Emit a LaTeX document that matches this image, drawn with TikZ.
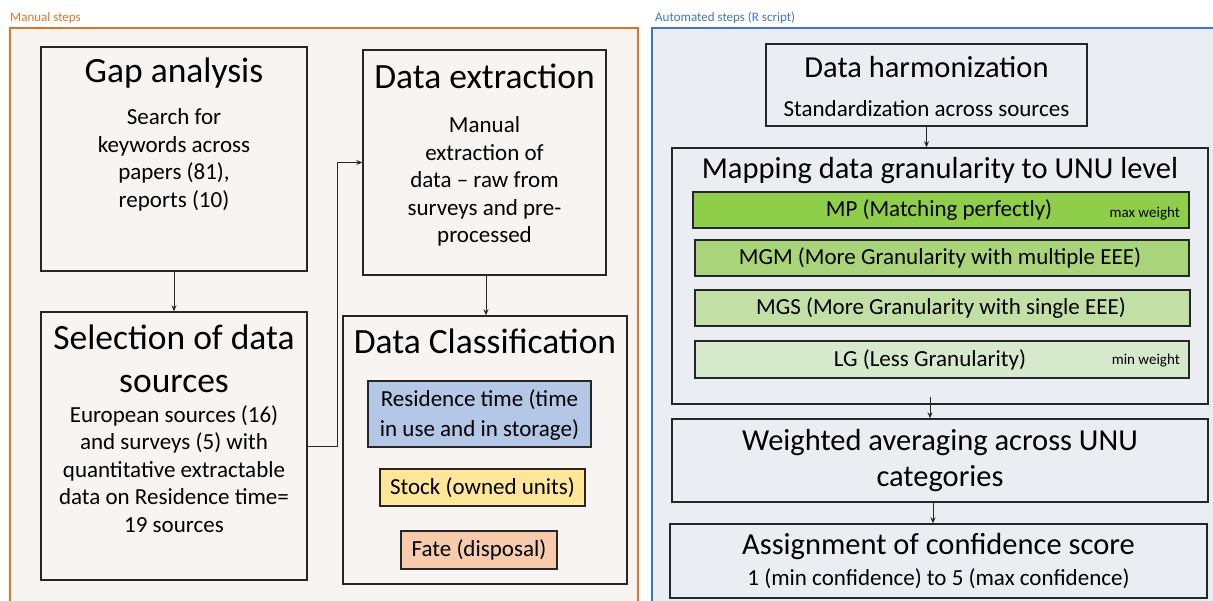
\documentclass[tikz,border=0pt]{standalone}
\usepackage{fontspec}
\setmainfont{Carlito}
\usetikzlibrary{arrows.meta}
\definecolor{orangeB}{HTML}{D9752B}
\definecolor{blueB}{HTML}{4472C4}
\definecolor{leftbg}{HTML}{F8F4F1}
\definecolor{rightbg}{HTML}{EAEEF3}
\definecolor{resfill}{HTML}{B4C7E7}
\definecolor{stockfill}{HTML}{FFE699}
\definecolor{fatefill}{HTML}{F8CBAD}
\definecolor{mpfill}{HTML}{8FCE4B}
\definecolor{mgmfill}{HTML}{A9D47A}
\definecolor{mgsfill}{HTML}{C2E0A5}
\definecolor{lgfill}{HTML}{D6E9CC}
\definecolor{edge}{HTML}{262626}
\tikzset{
  box/.style={draw=edge, line width=1.4pt, rectangle, inner sep=0pt},
  tag/.style={draw=edge, line width=1.2pt, rectangle, inner sep=0pt},
  container/.style={rectangle, inner sep=0pt, line width=1.3pt},
  bigtitle/.style={font=\fontsize{35.5}{43}\selectfont, align=center, inner sep=0pt},
  midtitle/.style={font=\fontsize{30.5}{36}\selectfont, align=center, inner sep=0pt},
  body/.style={font=\fontsize{23}{27.6}\selectfont, align=center, inner sep=0pt},
  small/.style={font=\fontsize{13}{15}\selectfont, inner sep=0pt},
  tiny/.style={font=\fontsize{15}{17}\selectfont, inner sep=0pt},
  arr/.style={-{Stealth[length=6pt,width=5pt]}, line width=1pt, draw=edge},
}
\begin{document}
\begin{tikzpicture}[x=1pt,y=-1pt]
\useasboundingbox (0,0) rectangle (1213,601);
% containers
\node[container, draw=orangeB, fill=leftbg, minimum width=628, minimum height=590] (manual) at (324,323) {};
\node[container, draw=blueB, fill=rightbg, minimum width=580, minimum height=590] (auto) at (942,323) {};
\node[small, text=orangeB, anchor=west] (manualT) at (10,18) {Manual steps};
\node[small, text=blueB, anchor=west] (autoT) at (655,18) {Automated steps (R script)};
% left boxes
\node[box, minimum width=266, minimum height=224] (gap) at (174,159) {};
\node[bigtitle] (gapT) at (174,73) {Gap analysis};
\node[body] (gapB) at (174,160) {Search for\\keywords across\\papers (81),\\reports (10)};
\node[box, minimum width=266, minimum height=268] (sel) at (174,446) {};
\node[bigtitle] (selT) at (174,359) {Selection of data\\sources};
\node[body] (selB) at (174,469) {European sources (16)\\and surveys (5) with\\quantitative extractable\\data on Residence time=\\19 sources};
\node[box, minimum width=243, minimum height=225] (ext) at (484.5,162.5) {};
\node[bigtitle] (extT) at (484.5,76) {Data extraction};
\node[body] (extB) at (484.5,181.5) {Manual\\extraction of\\data -- raw from\\surveys and pre-\\processed};
\node[box, minimum width=284, minimum height=268] (cls) at (485,450) {};
\node[bigtitle] (clsT) at (485,341) {Data Classification};
\node[tag, fill=resfill, minimum width=223, minimum height=66] (res) at (479.5,414) {};
\node[body, font=\fontsize{23}{30}\selectfont] (resB) at (479.5,415.5) {Residence time (time\\in use and in storage)};
\node[tag, fill=stockfill, minimum width=205, minimum height=37] (stock) at (482.5,487.5) {};
\node[body] (stockB) at (482.5,487.5) {Stock (owned units)};
\node[tag, fill=fatefill, minimum width=156, minimum height=38] (fate) at (479,550) {};
\node[body] (fateB) at (479,550) {Fate (disposal)};
% left connectors
\draw[arr] (gap) -- (sel);
\draw[arr] (sel.east) -- ++(30,0) |- (ext.west);
\draw[arr] (ext.south -| 486,0) -- (cls.north -| 486,0);
% right boxes
\node[box, minimum width=321, minimum height=82] (harm) at (926.5,85) {};
\node[midtitle] (harmT) at (926.5,67) {Data harmonization};
\node[body] (harmB) at (926.5,109) {Standardization across sources};
\node[box, minimum width=536, minimum height=256] (map) at (940,276) {};
\node[midtitle] (mapT) at (940,171) {Mapping data granularity to UNU level};
\node[tag, fill=mpfill, minimum width=496, minimum height=36] (mp) at (941,210) {};
\node[body] (mpB) at (939,210) {MP (Matching perfectly)};
\node[tiny, anchor=east] (mpW) at (1180,214) {max weight};
\node[tag, fill=mgmfill, minimum width=494, minimum height=36] (mgm) at (942,258) {};
\node[body] (mgmB) at (940,258) {MGM (More Granularity with multiple EEE)};
\node[tag, fill=mgsfill, minimum width=495, minimum height=36] (mgs) at (942.5,308) {};
\node[body] (mgsB) at (941,308) {MGS (More Granularity with single EEE)};
\node[tag, fill=lgfill, minimum width=494, minimum height=37] (lg) at (942,359.5) {};
\node[body] (lgB) at (930,359.5) {LG (Less Granularity)};
\node[tiny, anchor=east] (lgW) at (1180,361) {min weight};
\node[box, minimum width=536, minimum height=83] (wavg) at (940,460.5) {};
\node[midtitle] (wavgT) at (940,461) {Weighted averaging across UNU\\categories};
\node[box, minimum width=537, minimum height=74] (conf) at (938.5,561) {};
\node[midtitle] (confT) at (938.5,547) {Assignment of confidence score};
\node[body] (confB) at (938.5,579) {1 (min confidence) to 5 (max confidence)};
% right connectors
\draw[arr] (harm) -- (harm.south |- map.north);
\draw[arr] ([yshift=8pt]map.south -| 930,0) -- (wavg.north -| 930,0);
\draw[arr] (wavg.south -| 933,0) -- (conf.north -| 933,0);
\end{tikzpicture}
\end{document}
